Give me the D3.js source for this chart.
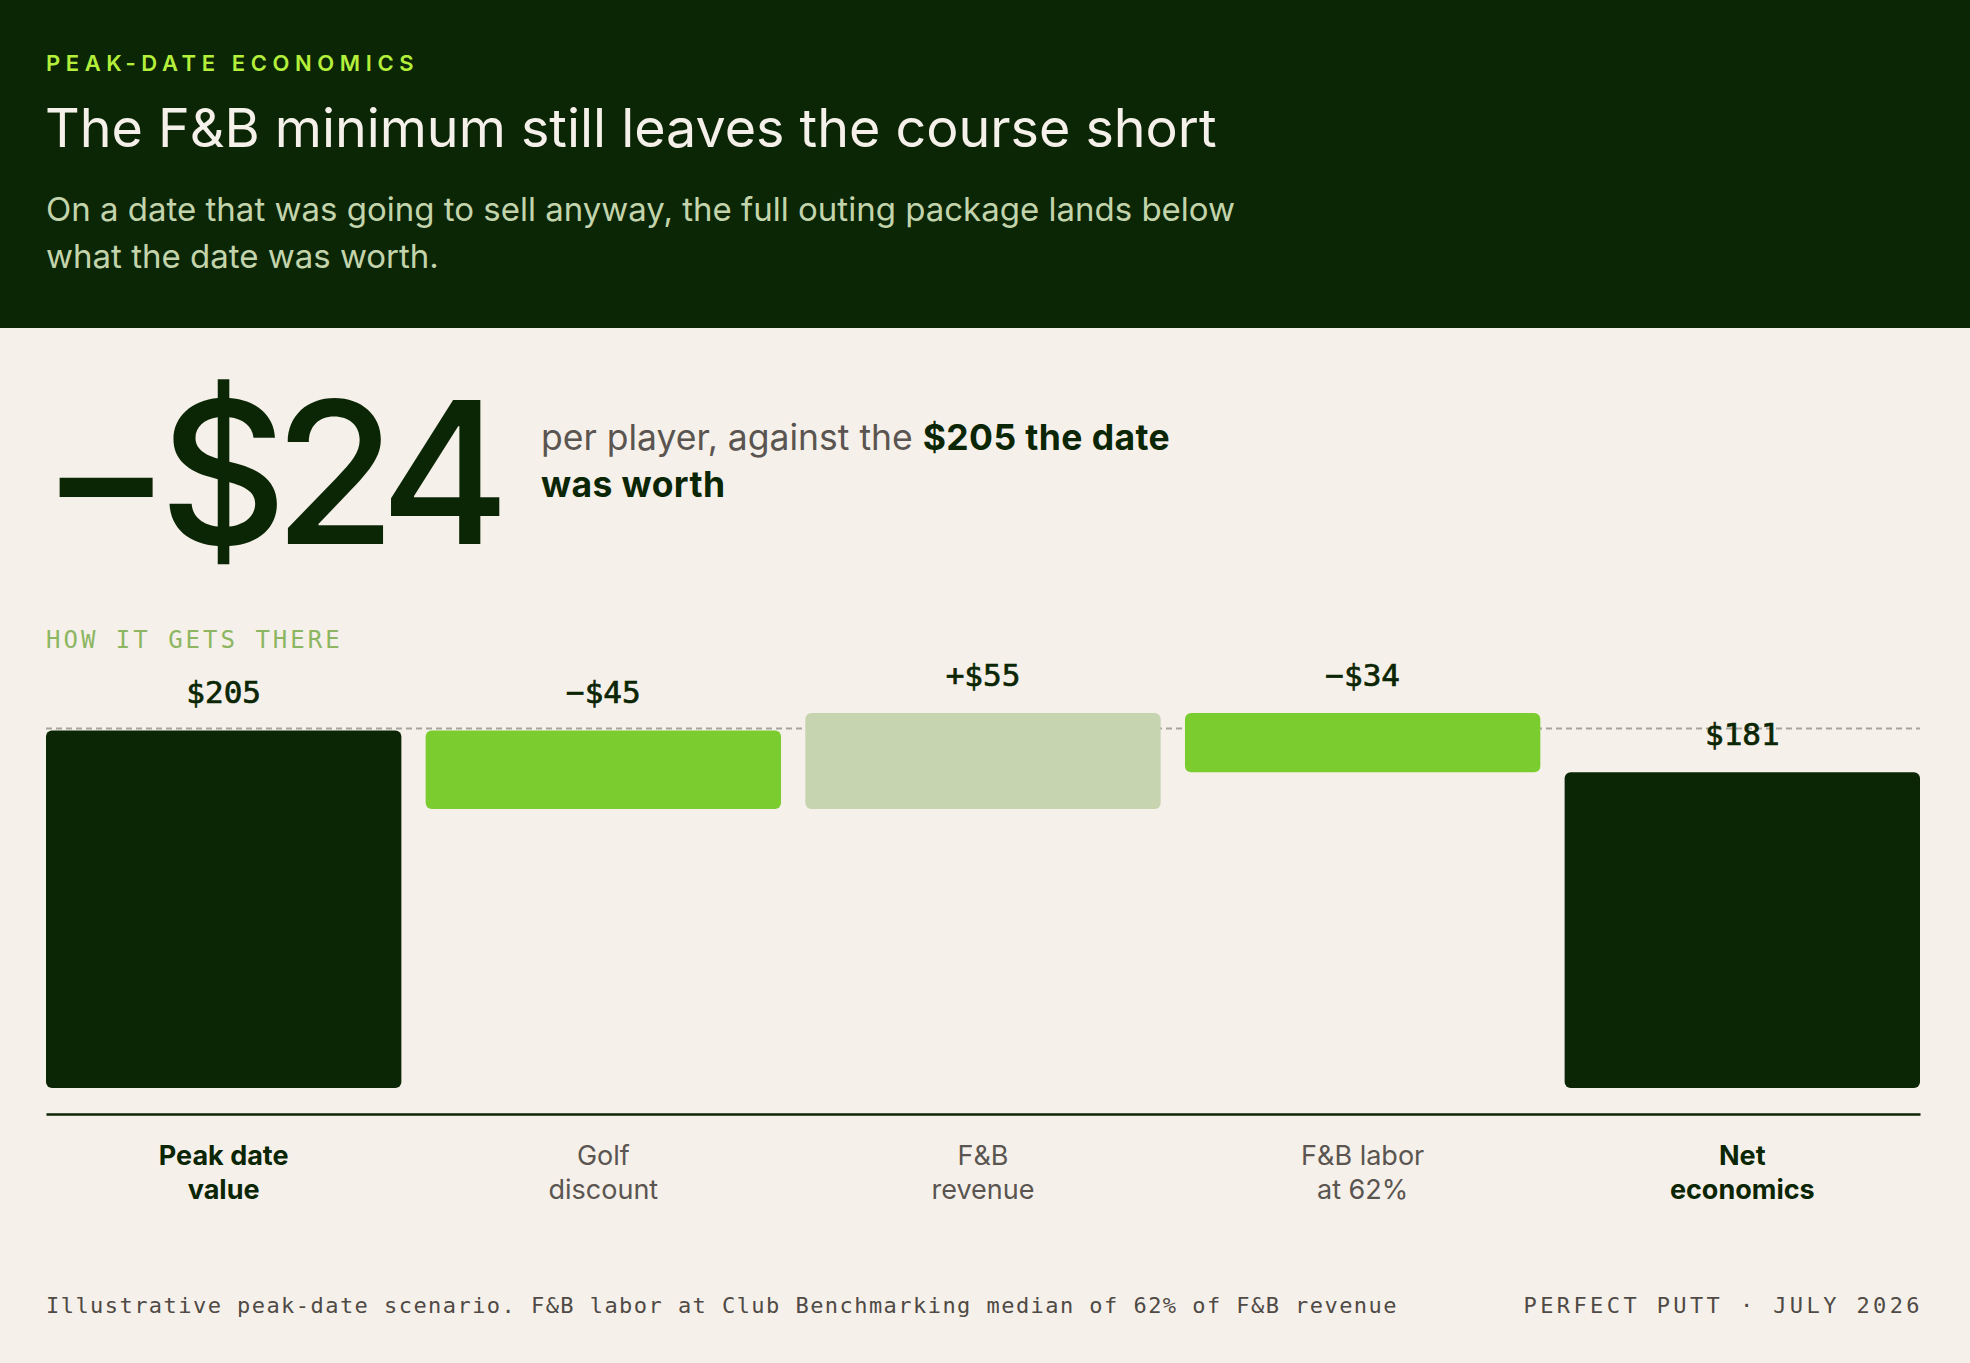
<!DOCTYPE html>
<html>
<head>
<meta charset="utf-8">
<script src="https://cdn.jsdelivr.net/npm/d3@7"></script>
<style>
  html, body { margin: 0; padding: 0; background: #f6f0ea; }
  svg { display: block; }
</style>
</head>
<body>
<div id="chart"></div>
<script>
// chart data
var categories = ["Peak date value", "Golf discount", "F&B revenue", "F&B labor at 62%", "Net economics"];
var labelLines = [["Peak date", "value"], ["Golf", "discount"], ["F&B", "revenue"], ["F&B labor", "at 62%"], ["Net", "economics"]];
var steps = [205, -45, 55, -34, 181];
var kinds = ["total", "decrease", "increase", "decrease", "total"];
var valueLabels = ["$205", "\u2212$45", "+$55", "\u2212$34", "$181"];
var referenceValue = 205;
var yMax = 215;

// SVG size
var svgWidth = 1970;
var svgHeight = 1363;

var margin = { top: 713, right: 50, bottom: 275, left: 46 };
var width = svgWidth - margin.left - margin.right;
var height = svgHeight - margin.top - margin.bottom;

var sans = "Inter, 'Noto Sans', sans-serif";
var mono = "'DejaVu Sans Mono', 'Liberation Mono', monospace";
var dark = "#0b2604";

var colors = { total: dark, decrease: "#7acc2f", increase: "#c6d4b0" };

var svg = d3.select("#chart")
  .append("svg")
  .attr("width", svgWidth)
  .attr("height", svgHeight);

svg.append("rect")
  .attr("width", svgWidth)
  .attr("height", svgHeight)
  .attr("fill", "#f6f0ea");

// header band
svg.append("rect")
  .attr("width", svgWidth)
  .attr("height", 328)
  .attr("fill", dark);

svg.append("text")
  .attr("x", 46).attr("y", 71)
  .style("font-family", sans).style("font-size", "22px").style("font-weight", 600)
  .style("letter-spacing", "5.6px")
  .attr("fill", "#b4ef3b")
  .text("PEAK-DATE ECONOMICS");

svg.append("text")
  .attr("x", 45).attr("y", 147)
  .style("font-family", sans).style("font-size", "53.8px").style("font-weight", 400)
  .attr("fill", "#f6f0ea")
  .text("The F&B minimum still leaves the course short");

var sub = svg.append("text")
  .style("font-family", sans).style("font-size", "33px")
  .attr("fill", "#c3d4ad");
sub.append("tspan").attr("x", 46).attr("y", 221)
  .text("On a date that was going to sell anyway, the full outing package lands below");
sub.append("tspan").attr("x", 46).attr("y", 268)
  .text("what the date was worth.");

// headline number
svg.append("text")
  .attr("x", 40).attr("y", 544)
  .style("font-family", sans).style("font-size", "198px").style("font-weight", 500)
  .style("letter-spacing", "-13px")
  .attr("fill", dark)
  .text("\u2212$24");

var note = svg.append("text")
  .style("font-family", sans).style("font-size", "35.5px")
  .attr("fill", "#5a5550");
note.append("tspan").attr("x", 541).attr("y", 450).text("per player, against the ");
note.append("tspan").style("font-weight", 700).style("letter-spacing", "0.4px").attr("fill", dark).text("$205 the date");
note.append("tspan").attr("x", 541).attr("y", 497).style("font-weight", 700).style("letter-spacing", "0.4px").attr("fill", dark).text("was worth");

svg.append("text")
  .attr("x", 46).attr("y", 648)
  .style("font-family", mono).style("font-size", "24px")
  .style("letter-spacing", "3px")
  .attr("fill", "#8cb661")
  .text("HOW IT GETS THERE");

// waterfall
var bars = [];
var running = 0;
steps.forEach(function(v, i) {
  var start, end;
  if (kinds[i] === "total") {
    start = 0; end = v; running = v;
  } else {
    start = running; end = running + v; running = end;
  }
  bars.push({ cat: categories[i], lines: labelLines[i], kind: kinds[i], label: valueLabels[i],
              lo: Math.min(start, end), hi: Math.max(start, end) });
});

var chartGroup = svg.append("g")
  .attr("transform", `translate(${margin.left}, ${margin.top})`);

var xBandScale = d3.scaleBand()
  .domain(categories)
  .range([0, width])
  .paddingInner(0.064)
  .paddingOuter(0);

var yLinearScale = d3.scaleLinear()
  .domain([0, yMax])
  .range([height, 0]);

// reference line at the date's value
chartGroup.append("line")
  .attr("x1", 0).attr("x2", width)
  .attr("y1", yLinearScale(referenceValue) - 2)
  .attr("y2", yLinearScale(referenceValue) - 2)
  .attr("stroke", "#a6a59d")
  .attr("stroke-width", 2)
  .attr("stroke-dasharray", "6,4");

chartGroup.selectAll(".bar")
  .data(bars)
  .enter()
  .append("rect")
  .attr("class", "bar")
  .attr("x", d => xBandScale(d.cat))
  .attr("y", d => yLinearScale(d.hi))
  .attr("width", xBandScale.bandwidth())
  .attr("height", d => yLinearScale(d.lo) - yLinearScale(d.hi))
  .attr("rx", 6)
  .attr("fill", d => colors[d.kind]);

chartGroup.selectAll(".valueLabel")
  .data(bars)
  .enter()
  .append("text")
  .attr("class", "valueLabel")
  .attr("x", d => xBandScale(d.cat) + xBandScale.bandwidth() / 2)
  .attr("y", d => yLinearScale(d.hi) - 27)
  .attr("text-anchor", "middle")
  .style("font-family", mono).style("font-size", "31px")
  .attr("fill", dark)
  .attr("stroke", dark).attr("stroke-width", 0.7)
  .text(d => d.label);

// axis baseline and category labels
var axisY = height + 26;
var bottomAxis = d3.axisBottom(xBandScale).tickSize(0).tickFormat("");
var axisG = chartGroup.append("g")
  .attr("transform", `translate(0, ${axisY})`)
  .call(bottomAxis);
axisG.select(".domain").attr("stroke", dark).attr("stroke-width", 2.5);

var catLabels = chartGroup.selectAll(".catLabel")
  .data(bars)
  .enter()
  .append("text")
  .attr("class", "catLabel")
  .attr("text-anchor", "middle")
  .style("font-family", sans).style("font-size", "27px")
  .style("font-weight", d => d.kind === "total" ? 700 : 400)
  .attr("fill", d => d.kind === "total" ? dark : "#5a5550");

catLabels.selectAll("tspan")
  .data(d => d.lines.map(l => ({ text: l, cat: d.cat })))
  .enter()
  .append("tspan")
  .attr("x", d => xBandScale(d.cat) + xBandScale.bandwidth() / 2)
  .attr("y", (d, i) => axisY + 51 + i * 34)
  .text(d => d.text);

// footer
svg.append("text")
  .attr("x", 46).attr("y", 1313)
  .style("font-family", mono).style("font-size", "22px")
  .style("letter-spacing", "1.45px")
  .attr("fill", "#4f4a45")
  .text("Illustrative peak-date scenario. F&B labor at Club Benchmarking median of 62% of F&B revenue");

svg.append("text")
  .attr("x", 1920 + 3).attr("y", 1313)
  .attr("text-anchor", "end")
  .style("font-family", mono).style("font-size", "22px")
  .style("letter-spacing", "3.4px")
  .attr("fill", "#4f4a45")
  .text("PERFECT PUTT \u00b7 JULY 2026");
</script>
</body>
</html>
